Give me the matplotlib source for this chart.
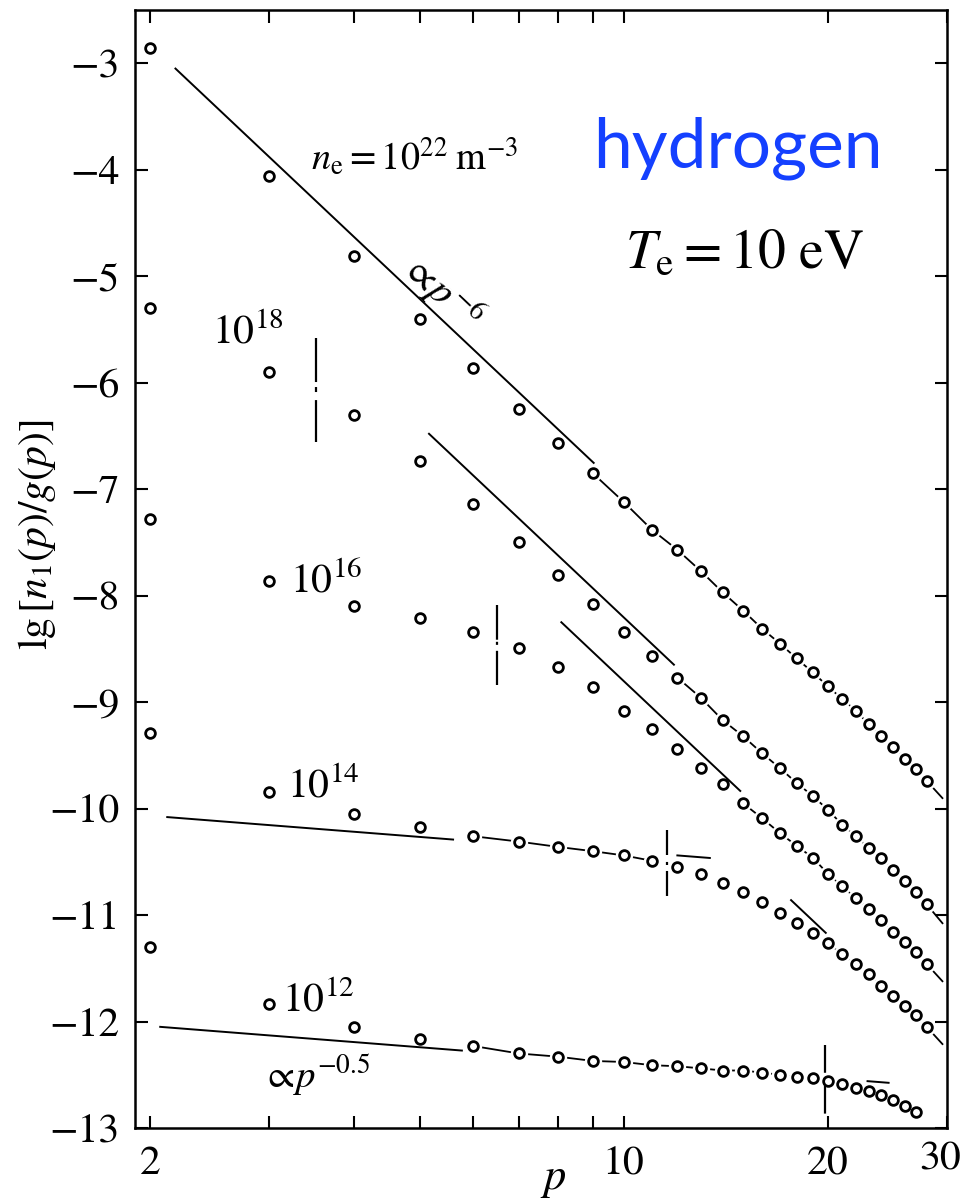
import numpy as np
import matplotlib
matplotlib.use('Agg')
import matplotlib.pyplot as plt
from matplotlib.ticker import NullLocator

plt.rcParams['font.family'] = ['STIXGeneral', 'DejaVu Serif']
plt.rcParams['mathtext.fontset'] = 'stix'
plt.rcParams['lines.scale_dashes'] = False

# principal quantum number p
p_all = np.arange(2, 29)
p_12 = np.arange(2, 28)

# lg[n1(p)/g(p)], one list per electron density
lg_22 = [-2.86, -4.06, -4.81, -5.40, -5.86, -6.25, -6.57, -6.85, -7.12, -7.38, -7.57, -7.77, -7.97, -8.14,
         -8.31, -8.45, -8.59, -8.72, -8.85, -8.97, -9.08, -9.21, -9.32, -9.42, -9.53, -9.63, -9.74]
lg_18 = [-5.30, -5.90, -6.30, -6.74, -7.14, -7.50, -7.81, -8.08, -8.34, -8.57, -8.77, -8.96, -9.17, -9.32,
         -9.48, -9.62, -9.76, -9.88, -10.01, -10.15, -10.26, -10.37, -10.46, -10.58, -10.68, -10.78, -10.90]
lg_16 = [-7.28, -7.86, -8.10, -8.21, -8.34, -8.49, -8.67, -8.86, -9.08, -9.25, -9.44, -9.62, -9.77, -9.95,
         -10.09, -10.23, -10.35, -10.46, -10.61, -10.73, -10.84, -10.94, -11.05, -11.16, -11.25, -11.35, -11.46]
lg_14 = [-9.29, -9.84, -10.05, -10.17, -10.26, -10.31, -10.36, -10.40, -10.44, -10.49, -10.55, -10.61, -10.70,
         -10.78, -10.88, -10.98, -11.07, -11.17, -11.26, -11.37, -11.46, -11.55, -11.67, -11.76, -11.85, -11.94, -12.05]
lg_12 = [-11.30, -11.84, -12.05, -12.16, -12.23, -12.30, -12.33, -12.37, -12.38, -12.41, -12.42, -12.44, -12.46,
         -12.46, -12.48, -12.50, -12.52, -12.53, -12.56, -12.59, -12.62, -12.65, -12.69, -12.74, -12.79, -12.85]

# which p ranges are joined by the broken line (p_from, p_to, runs on to the frame)
joins_22 = [(9, 28, True)]
joins_18 = [(12, 28, True)]
joins_16 = [(15, 28, True)]
joins_14 = [(6, 11, False), (20, 28, True)]
joins_12 = [(6, 19, False)]

# straight power-law guides: start p, end p, lg value at start, exponent
guide_p0 = [2.18, 5.16, 8.09, 17.66, 2.12, 12.0, 2.07, 22.9]
guide_p1 = [9.03, 11.86, 14.86, 19.87, 5.60, 13.4, 5.77, 24.6]
guide_y0 = [-3.05, -6.48, -8.25, -10.86, -10.08, -10.44, -12.05, -12.56]
guide_k = [-6, -6, -6, -6, -0.5, -0.5, -0.5, -0.5]

# vertical dash-dot marks (critical level)
crit_p = [3.52, 6.51, 11.6, 19.8]
crit_top = [-5.58, -8.09, -10.20, -12.22]
crit_bot = [-6.56, -8.84, -10.84, -12.88]
crit_dash = [(31.7, 3.6, 3.6, 5.8), (25, 1.5, 2.2, 4.3), (18, 5, 2.2, 4.3), (20, 3.6, 2.2, 3.6)]

fig = plt.figure(figsize=(9.65, 12.03), dpi=100)
ax = fig.add_axes([135 / 965, 1 - 1128 / 1203, 812 / 965, 1118 / 1203])
ax.set_xscale('log')
ax.set_xlim(1.9, 30)
ax.set_ylim(-13, -2.5)


def join(p, y, p_from, p_to, tail):
    p = np.asarray(p, float)
    y = np.asarray(y, float)
    m = (p >= p_from) & (p <= p_to)
    xs, ys = list(p[m]), list(y[m])
    if tail:
        k = (ys[-1] - ys[-2]) / (np.log10(xs[-1]) - np.log10(xs[-2]))
        xe = 29.6
        ys.append(ys[-1] + k * (np.log10(xe) - np.log10(xs[-1])))
        xs.append(xe)
    ax.plot(xs, ys, color='k', lw=1.3, zorder=1, solid_capstyle='butt')


series = [(p_all, lg_22, joins_22), (p_all, lg_18, joins_18), (p_all, lg_16, joins_16),
          (p_all, lg_14, joins_14), (p_12, lg_12, joins_12)]
for p, y, joins in series:
    for a, b, t in joins:
        join(p, y, a, b, t)
    ax.plot(p, y, 'o', ms=12.5, mfc='white', mec='none', zorder=2)
    ax.plot(p, y, 'o', ms=7, mfc='white', mec='k', mew=2.0, zorder=4)

for p0, p1, y0, k in zip(guide_p0, guide_p1, guide_y0, guide_k):
    pp = np.array([p0, p1])
    ax.plot(pp, y0 + k * np.log10(pp / p0), color='k', lw=1.4, zorder=3)

for pc, yt, yb, d in zip(crit_p, crit_top, crit_bot, crit_dash):
    ax.plot([pc, pc], [yt, yb], color='k', lw=1.6, dashes=d, zorder=3)

# curve labels
lab_p = [3.46, 2.47, 3.22, 3.18, 3.13, 2.93]
lab_y = [-4.00, -5.63, -7.97, -9.90, -11.91, -12.62]
lab_txt = [r'$n_{\mathrm{e}}= 10^{22}\;\mathrm{m}^{-3}$', r'$10^{18}$', r'$10^{16}$', r'$10^{14}$',
           r'$10^{12}$', r'$\propto\!p^{-0.5}$']
lab_size = [27.5, 30, 30, 30, 30, 28]
for x, y, s, fs in zip(lab_p, lab_y, lab_txt, lab_size):
    ax.text(x, y, s, fontsize=fs, va='baseline', ha='left', zorder=5)
ax.text(5.40, -5.14, r'$\propto\!p^{-6}$', fontsize=29, rotation=-43.4, ha='center', va='center',
        rotation_mode='anchor', zorder=5)

# axes styling
ax.set_xticks([2, 3, 4, 5, 6, 7, 8, 9, 10, 20, 30])
ax.set_xticklabels(['2', '', '', '', '', '', '', '', '10', '20', ''])
ax.xaxis.set_minor_locator(NullLocator())
yt = np.arange(-13, -2)
ax.set_yticks(yt)
ax.set_yticklabels(['\u2212%d' % abs(v) for v in yt])
ax.tick_params(which='both', direction='in', top=True, right=True, length=9, width=1.5, labelsize=30)
ax.tick_params(axis='x', pad=13)
ax.tick_params(axis='y', pad=11)
for s in ax.spines.values():
    s.set_linewidth(1.8)

# the "30" label sits a little inside the right edge
fig.text(940 / 965, 1 - 1160 / 1203, '30', fontsize=30, ha='center', va='center')

fig.text(37 / 965, 1 - 535 / 1203, r'$\mathrm{lg}\,[n_1(p)/g(p)]$', rotation=90, fontsize=30,
         ha='center', va='center')
fig.text(553 / 965, 1 - 1181 / 1203, r'$p$', fontsize=32, ha='center', va='center')

fig.text(593 / 965, 1 - 168 / 1203, 'hydrogen', fontsize=50, color='#1440ff', family='Lato', va='baseline')
fig.text(625 / 965, 1 - 267 / 1203, r'$T_{\mathrm{e}}=10\ \mathrm{eV}$', fontsize=40, va='baseline')

fig.savefig('out.png', dpi=100)
